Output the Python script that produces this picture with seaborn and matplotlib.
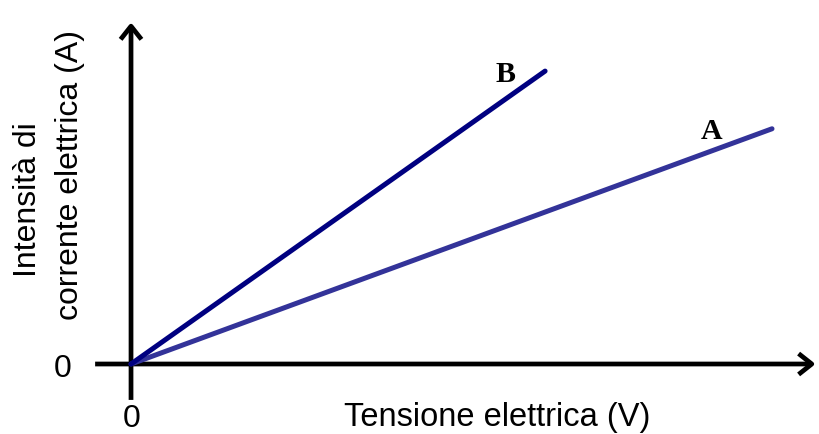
import pandas as pd
import seaborn as sns
import matplotlib.pyplot as plt

# two straight lines through the origin (arbitrary units)
tensione_A = [0, 10.0]
corrente_A = [0, 3.67]
tensione_B = [0, 6.46]
corrente_B = [0, 4.57]
labels = ['A', 'B']
colors = {'A': '#333399', 'B': '#000080'}

df = pd.DataFrame({
    'Tensione': tensione_A + tensione_B,
    'Corrente': corrente_A + corrente_B,
    'serie': ['A'] * 2 + ['B'] * 2,
})

sns.set_style('white')
plt.rcParams['font.family'] = ['Liberation Sans', 'DejaVu Sans']
plt.rcParams['text.color'] = 'black'

fig = plt.figure(figsize=(8.19, 4.34), dpi=100)
ax = fig.add_axes([0, 0, 1, 1])

sns.lineplot(data=df, x='Tensione', y='Corrente', hue='serie', palette=colors,
             linewidth=3.6, legend=False, ax=ax, zorder=3)

ax.set_xlim(-2.044, 10.733)
ax.set_ylim(-1.092, 5.679)
ax.axis('off')

# axes with arrows
arrow = dict(arrowstyle='->,head_length=0.95,head_width=0.75', lw=3.4, color='black',
             shrinkA=0, shrinkB=0, capstyle='butt')
ax.annotate('', xy=(10.68, 0), xytext=(-0.56, 0), arrowprops=arrow, zorder=2)
ax.annotate('', xy=(0, 5.33), xytext=(0, -0.56), arrowprops=arrow, zorder=2)

ax.text(-1.061, -0.078, '0', fontsize=23, ha='center', va='center')
ax.text(0.016, -0.86, '0', fontsize=23, ha='center', va='center')
ax.text(5.71, -0.84, 'Tensione elettrica (V)', fontsize=23.5, ha='center', va='center')
ax.text(-1.61, 2.558, 'Intensità di', fontsize=23,
        ha='center', va='center', rotation=90)
ax.text(-0.952, 2.949, 'corrente elettrica (A)', fontsize=23,
        ha='center', va='center', rotation=90)

# series labels
ax.text(5.835, 4.516, labels[1], fontsize=21.5, fontweight='bold', family='Liberation Serif',
        ha='center', va='center')
ax.text(9.064, 3.635, labels[0], fontsize=21.5, fontweight='bold', family='Liberation Serif',
        ha='center', va='center')

fig.savefig('out.png', dpi=100)
